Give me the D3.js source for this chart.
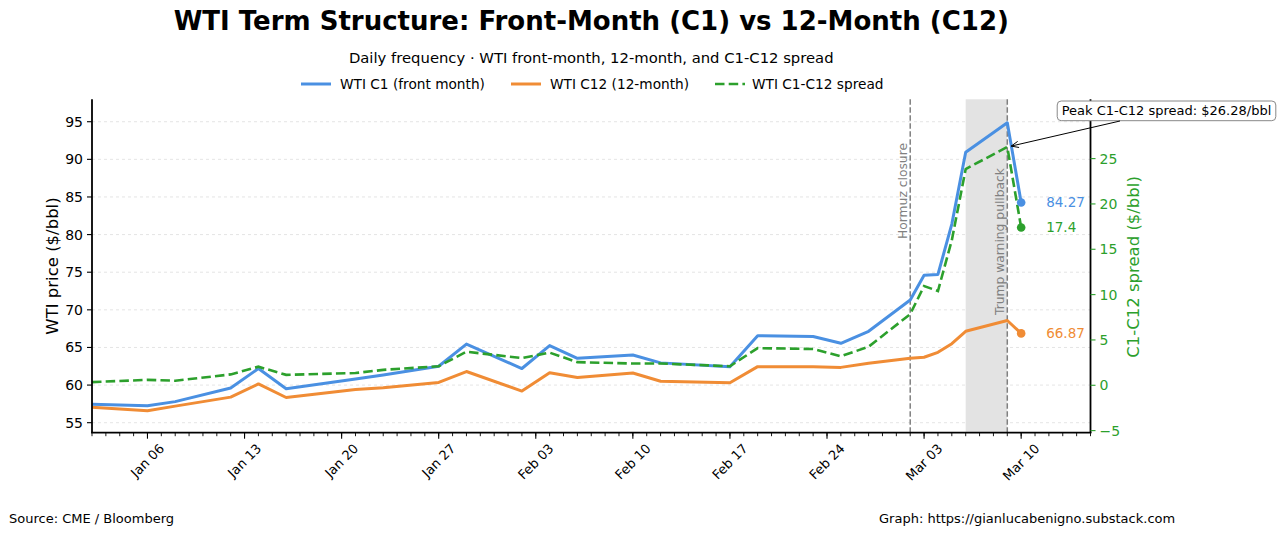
<!DOCTYPE html>
<html>
<head>
<meta charset="utf-8">
<script src="https://cdn.jsdelivr.net/npm/d3@7"></script>
<style>
  html, body { margin: 0; padding: 0; background: #ffffff; }
  svg { display: block; font-family: "DejaVu Sans", sans-serif; }
</style>
</head>
<body>
<svg id="chart" width="1280" height="534"></svg>
<script>
// ---------------- DATA ----------------
const dates = ["2026-01-02","2026-01-06","2026-01-08","2026-01-12","2026-01-14","2026-01-16",
  "2026-01-21","2026-01-23","2026-01-27","2026-01-29","2026-02-02","2026-02-04","2026-02-06",
  "2026-02-10","2026-02-12","2026-02-17","2026-02-19","2026-02-23","2026-02-25","2026-02-27",
  "2026-03-02","2026-03-03","2026-03-04","2026-03-05","2026-03-06","2026-03-09","2026-03-10"];
const c1Values = [57.45, 57.25, 57.8, 59.6, 62.2, 59.5, 60.8, 61.35, 62.5, 65.45, 62.2, 65.25, 63.55,
  64.0, 62.95, 62.45, 66.55, 66.45, 65.55, 67.15, 71.3, 74.6, 74.7, 81.4, 90.95, 94.86, 84.27];
const c12Values = [57.05, 56.6, 57.2, 58.4, 60.15, 58.35, 59.4, 59.65, 60.35, 61.8, 59.2, 61.65, 61.0,
  61.6, 60.5, 60.3, 62.45, 62.45, 62.35, 62.9, 63.55, 63.7, 64.35, 65.5, 67.15, 68.58, 66.87];
const spreadValues = [0.35, 0.6, 0.5, 1.2, 2.05, 1.15, 1.35, 1.7, 2.1, 3.7, 3.0, 3.6, 2.55,
  2.4, 2.4, 2.1, 4.1, 4.0, 3.2, 4.25, 7.85, 10.95, 10.4, 16.0, 23.85, 26.28, 17.4];

const xDomain = ["2026-01-02", "2026-03-15"];
const xTickDates = ["2026-01-06","2026-01-13","2026-01-20","2026-01-27","2026-02-03",
  "2026-02-10","2026-02-17","2026-02-24","2026-03-03","2026-03-10"];
const leftTicks = [55, 60, 65, 70, 75, 80, 85, 90, 95];
const rightTicks = [-5, 0, 5, 10, 15, 20, 25];
const leftDomain = [53.67, 97.98];
const rightDomain = [-5.23, 31.54];

const eventDates = ["2026-03-02", "2026-03-09"];
const eventLabels = ["Hormuz closure", "Trump warning pullback"];
const shadeRange = ["2026-03-06", "2026-03-09"];

const seriesNames = ["WTI C1 (front month)", "WTI C12 (12-month)", "WTI C1-C12 spread"];
const titleText = "WTI Term Structure: Front-Month (C1) vs 12-Month (C12)";
const subtitleText = "Daily frequency \u00b7 WTI front-month, 12-month, and C1-C12 spread";
const peakText = "Peak C1-C12 spread: $26.28/bbl";
const sourceText = "Source: CME / Bloomberg";
const creditText = "Graph: https://gianlucabenigno.substack.com";

// ---------------- STYLE ----------------
const BLUE = "#4a90e2", ORANGE = "#f08c35", GREEN = "#2ca02c";
const parse = d3.utcParse("%Y-%m-%d");
const M = { left: 92, right: 1090.5, top: 99.3, bottom: 432.7 };

const svg = d3.select("#chart");
const x = d3.scaleUtc().domain(xDomain.map(parse)).range([M.left, M.right]);
const yL = d3.scaleLinear().domain(leftDomain).range([M.bottom, M.top]);
const yR = d3.scaleLinear().domain(rightDomain).range([M.bottom, M.top]);

const rows = dates.map((d, i) => ({ date: parse(d), c1: c1Values[i], c12: c12Values[i], sp: spreadValues[i] }));

// grid
svg.append("g").selectAll("line").data(leftTicks).join("line")
  .attr("x1", M.left).attr("x2", M.right)
  .attr("y1", d => yL(d)).attr("y2", d => yL(d))
  .attr("stroke", "#dddddd").attr("stroke-width", 0.8).attr("stroke-dasharray", "3,3");

// shaded region
svg.append("rect")
  .attr("x", x(parse(shadeRange[0]))).attr("y", M.top)
  .attr("width", x(parse(shadeRange[1])) - x(parse(shadeRange[0])))
  .attr("height", M.bottom - M.top)
  .attr("fill", "#e3e3e3");

// event lines
svg.append("g").selectAll("line").data(eventDates).join("line")
  .attr("x1", d => x(parse(d))).attr("x2", d => x(parse(d)))
  .attr("y1", M.top).attr("y2", M.bottom)
  .attr("stroke", "#808080").attr("stroke-width", 1.5).attr("stroke-dasharray", "5.5,2.5");

// event labels (rotated)
const evTop = [143, 168];
svg.append("g").selectAll("text").data(eventDates).join("text")
  .attr("transform", (d, i) => `translate(${x(parse(d)) - 3.5},${evTop[i]}) rotate(-90)`)
  .attr("text-anchor", "end")
  .attr("font-size", 12.3).attr("fill", "#808080")
  .text((d, i) => eventLabels[i]);

// lines
const lineC1 = d3.line().x(d => x(d.date)).y(d => yL(d.c1));
const lineC12 = d3.line().x(d => x(d.date)).y(d => yL(d.c12));
const lineSp = d3.line().x(d => x(d.date)).y(d => yR(d.sp));

svg.append("path").datum(rows).attr("d", lineC12).attr("fill", "none")
  .attr("stroke", ORANGE).attr("stroke-width", 3).attr("stroke-linejoin", "round");
svg.append("path").datum(rows).attr("d", lineC1).attr("fill", "none")
  .attr("stroke", BLUE).attr("stroke-width", 3).attr("stroke-linejoin", "round");
svg.append("path").datum(rows).attr("d", lineSp).attr("fill", "none")
  .attr("stroke", GREEN).attr("stroke-width", 2.6).attr("stroke-dasharray", "9.5,4.2");

// end markers and labels
const last = rows[rows.length - 1];
const ends = [
  { y: yL(last.c1), c: BLUE, t: String(last.c1) },
  { y: yR(last.sp), c: GREEN, t: String(last.sp) },
  { y: yL(last.c12), c: ORANGE, t: String(last.c12) }
];
svg.append("g").selectAll("circle").data(ends).join("circle")
  .attr("cx", x(last.date)).attr("cy", d => d.y).attr("r", 4.3).attr("fill", d => d.c);
svg.append("g").selectAll("text").data(ends).join("text")
  .attr("x", x(last.date) + 25).attr("y", d => d.y)
  .attr("dy", "0.35em").attr("font-size", 13.5).attr("fill", d => d.c)
  .text(d => d.t);

// axes spines
const axisG = svg.append("g");
axisG.append("line").attr("x1", M.left).attr("x2", M.left).attr("y1", M.top).attr("y2", M.bottom)
  .attr("stroke", "#000").attr("stroke-width", 1.8);
axisG.append("line").attr("x1", M.right).attr("x2", M.right).attr("y1", M.top).attr("y2", M.bottom)
  .attr("stroke", "#000").attr("stroke-width", 1.8);
axisG.append("line").attr("x1", M.left - 0.9).attr("x2", M.right + 0.9).attr("y1", M.bottom).attr("y2", M.bottom)
  .attr("stroke", "#000").attr("stroke-width", 1.8);

// left axis
const gl = svg.append("g");
gl.selectAll("line").data(leftTicks).join("line")
  .attr("x1", M.left - 5).attr("x2", M.left).attr("y1", d => yL(d)).attr("y2", d => yL(d))
  .attr("stroke", "#000").attr("stroke-width", 1.1);
gl.selectAll("text").data(leftTicks).join("text")
  .attr("x", M.left - 9).attr("y", d => yL(d)).attr("dy", "0.36em")
  .attr("text-anchor", "end").attr("font-size", 14).attr("fill", "#000").text(d => d);
svg.append("text")
  .attr("transform", `translate(58,266) rotate(-90)`)
  .attr("text-anchor", "middle").attr("font-size", 16.5).attr("fill", "#000")
  .text("WTI price ($/bbl)");

// right axis
const gr = svg.append("g");
gr.selectAll("line").data(rightTicks).join("line")
  .attr("x1", M.right).attr("x2", M.right + 5).attr("y1", d => yR(d)).attr("y2", d => yR(d))
  .attr("stroke", GREEN).attr("stroke-width", 1.1);
gr.selectAll("text").data(rightTicks).join("text")
  .attr("x", M.right + 9).attr("y", d => yR(d)).attr("dy", "0.36em")
  .attr("text-anchor", "start").attr("font-size", 14).attr("fill", GREEN)
  .text(d => d < 0 ? "\u2212" + Math.abs(d) : d);
svg.append("text")
  .attr("transform", `translate(1139,267) rotate(-90)`)
  .attr("text-anchor", "middle").attr("font-size", 16.5).attr("fill", GREEN)
  .text("C1-C12 spread ($/bbl)");

// x axis ticks
const minorDays = d3.utcDay.range(parse(xDomain[0]), d3.utcDay.offset(parse(xDomain[1]), 1));
svg.append("g").selectAll("line").data(minorDays).join("line")
  .attr("x1", d => x(d)).attr("x2", d => x(d)).attr("y1", M.bottom).attr("y2", M.bottom + 3.5)
  .attr("stroke", "#000").attr("stroke-width", 0.9);
svg.append("g").selectAll("line").data(xTickDates).join("line")
  .attr("x1", d => x(parse(d))).attr("x2", d => x(parse(d))).attr("y1", M.bottom).attr("y2", M.bottom + 6)
  .attr("stroke", "#000").attr("stroke-width", 1.1);
const fmt = d3.utcFormat("%b %d");
const xt = svg.append("g").selectAll("text").data(xTickDates).join("text")
  .attr("text-anchor", "middle").attr("dominant-baseline", "central")
  .attr("font-size", 13).attr("fill", "#000")
  .text(d => fmt(parse(d)));
xt.attr("transform", function (d) {
  const w = this.getComputedTextLength();
  const h = 10;
  const half = (w + h) * Math.SQRT1_2 / 2;
  return `translate(${x(parse(d))},${M.bottom + 10 + half}) rotate(-45)`;
});

// title, subtitle
const cx = (M.left + M.right) / 2;
svg.append("text").attr("x", cx).attr("y", 30).attr("text-anchor", "middle")
  .attr("font-size", 26).attr("font-weight", "bold").attr("fill", "#000").text(titleText);
svg.append("text").attr("x", cx).attr("y", 63).attr("text-anchor", "middle")
  .attr("font-size", 14.8).attr("fill", "#000").text(subtitleText);

// legend
const legX = [301, 511, 715];
const legColors = [BLUE, ORANGE, GREEN];
const leg = svg.append("g").selectAll("g").data(seriesNames).join("g")
  .attr("transform", (d, i) => `translate(${legX[i]},84)`);
leg.append("line").attr("x1", 0).attr("x2", 30).attr("y1", 0).attr("y2", 0)
  .attr("stroke", (d, i) => legColors[i]).attr("stroke-width", (d, i) => i === 2 ? 2.6 : 3)
  .attr("stroke-dasharray", (d, i) => i === 2 ? "9.5,4.2" : null);
leg.append("text").attr("x", (d, i) => i === 2 ? 37 : 39).attr("y", 0).attr("dy", "0.36em")
  .attr("font-size", 13.7).attr("fill", "#000").text(d => d);

// peak annotation
const peakIdx = spreadValues.indexOf(d3.max(spreadValues));
const px = x(rows[peakIdx].date), py = yR(rows[peakIdx].sp);
const ann = svg.append("g");
const annText = ann.append("text").attr("x", 1166.5).attr("y", 110.5).attr("dy", "0.36em")
  .attr("text-anchor", "middle").attr("font-size", 13).attr("fill", "#000").text(peakText);
const tw = annText.node().getComputedTextLength();
const bx0 = 1166.5 - tw / 2 - 4.5, bx1 = 1166.5 + tw / 2 + 4.5;
ann.insert("rect", "text").attr("x", bx0).attr("y", 101).attr("width", bx1 - bx0).attr("height", 19.7)
  .attr("rx", 4).attr("fill", "#fff").attr("stroke", "#888").attr("stroke-width", 1);
const sx = 1120, sy = 121;
const ang = Math.atan2(py - sy, px - sx);
const tipX = px - Math.cos(ang) * 4, tipY = py - Math.sin(ang) * 4;
ann.append("line").attr("x1", sx).attr("y1", sy).attr("x2", tipX).attr("y2", tipY)
  .attr("stroke", "#000").attr("stroke-width", 1);
const hl = 8, ha = 0.4;
ann.append("path")
  .attr("d", `M${tipX - hl * Math.cos(ang - ha)},${tipY - hl * Math.sin(ang - ha)} L${tipX},${tipY} L${tipX - hl * Math.cos(ang + ha)},${tipY - hl * Math.sin(ang + ha)}`)
  .attr("fill", "none").attr("stroke", "#000").attr("stroke-width", 1);

// footer
svg.append("text").attr("x", 9).attr("y", 523).attr("font-size", 13).attr("fill", "#000").text(sourceText);
svg.append("text").attr("x", 879).attr("y", 523).attr("font-size", 13).attr("fill", "#000").text(creditText);
</script>
</body>
</html>
